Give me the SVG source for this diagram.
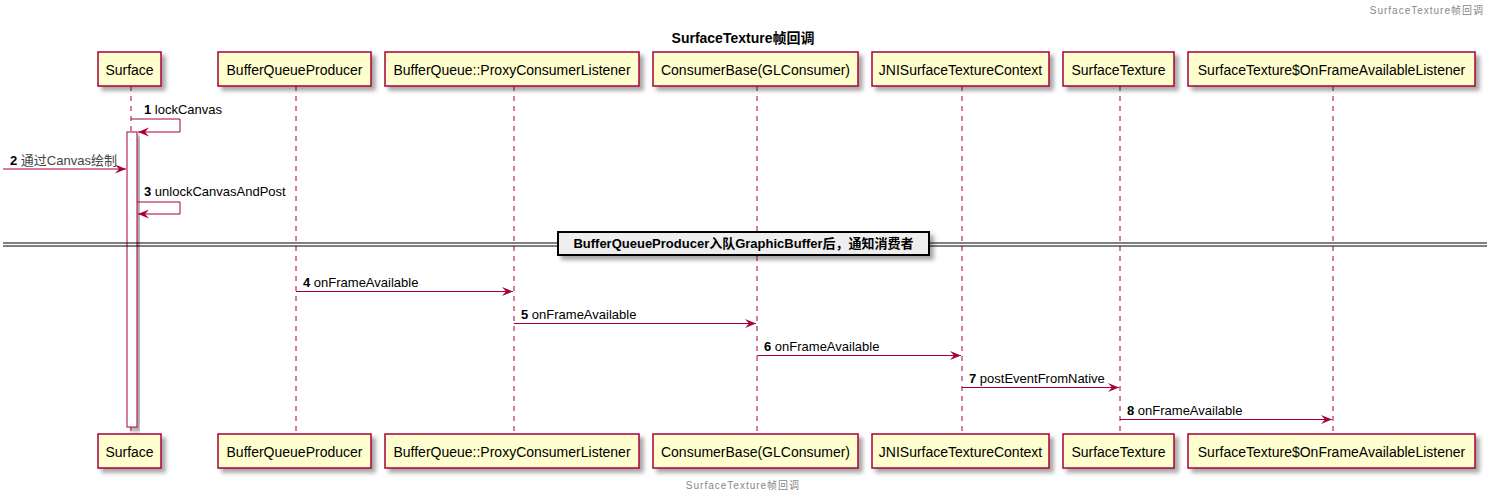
<svg xmlns="http://www.w3.org/2000/svg" width="1495" height="501" viewBox="0 0 1495 501">
<defs>
<filter id="sh" x="-20%" y="-20%" width="150%" height="170%">
<feGaussianBlur in="SourceAlpha" stdDeviation="2"/>
<feOffset dx="4" dy="4" result="b"/>
<feFlood flood-color="#000" flood-opacity="0.35"/>
<feComposite in2="b" operator="in"/>
<feMerge><feMergeNode/><feMergeNode in="SourceGraphic"/></feMerge>
</filter>
<marker id="ah" markerWidth="14" markerHeight="10" refX="11" refY="4.5" orient="auto" markerUnits="userSpaceOnUse">
<polygon points="0,0 11,4.5 0,9 4,4.5" fill="#A80036"/>
</marker>
</defs>
<style>
text{font-family:"Liberation Sans","Noto Sans CJK SC",sans-serif;}
.box{fill:#FEFECE;stroke:#A80036;stroke-width:1.5;filter:url(#sh);}
.bt{font-size:14px;text-anchor:middle;fill:#000;}
.life{stroke:#A80036;stroke-width:1;stroke-dasharray:5,5;fill:none;}
.msg{stroke:#A80036;stroke-width:1;fill:none;marker-end:url(#ah);}
.ml{font-size:13px;fill:#000;}
.num{font-weight:bold;}
.hf{font-size:10px;fill:#888;letter-spacing:1px;}
</style>
<rect width="1495" height="501" fill="#fff"/>
<text class="hf" x="1484" y="14" text-anchor="end">SurfaceTexture帧回调</text>
<text x="743" y="43" text-anchor="middle" font-size="14" font-weight="bold">SurfaceTexture帧回调</text>
<text class="hf" x="743" y="489" text-anchor="middle">SurfaceTexture帧回调</text>

<g id="lifelines">
<line class="life" x1="131" y1="86" x2="131" y2="434"/>
<line class="life" x1="296" y1="86" x2="296" y2="434"/>
<line class="life" x1="514" y1="86" x2="514" y2="434"/>
<line class="life" x1="757" y1="86" x2="757" y2="434"/>
<line class="life" x1="962" y1="86" x2="962" y2="434"/>
<line class="life" x1="1120" y1="86" x2="1120" y2="434"/>
<line class="life" x1="1333" y1="86" x2="1333" y2="434"/>
</g>

<g id="activation">
<rect x="127" y="132" width="10" height="295" fill="#fff" stroke="#A80036" stroke-width="1" filter="url(#sh)"/>
</g>

<g id="p-surface">
<rect class="box" x="98" y="52" width="63" height="34"/><text class="bt" x="129.5" y="75">Surface</text>
<rect class="box" x="98" y="434" width="63" height="34"/><text class="bt" x="129.5" y="457">Surface</text>
</g>
<g id="p-bqp">
<rect class="box" x="218" y="52" width="153" height="34"/><text class="bt" x="294.5" y="75">BufferQueueProducer</text>
<rect class="box" x="218" y="434" width="153" height="34"/><text class="bt" x="294.5" y="457">BufferQueueProducer</text>
</g>
<g id="p-proxy">
<rect class="box" x="385" y="52" width="254" height="34"/><text class="bt" x="512" y="75">BufferQueue::ProxyConsumerListener</text>
<rect class="box" x="385" y="434" width="254" height="34"/><text class="bt" x="512" y="457">BufferQueue::ProxyConsumerListener</text>
</g>
<g id="p-consumerbase">
<rect class="box" x="653" y="52" width="205" height="34"/><text class="bt" x="755.5" y="75">ConsumerBase(GLConsumer)</text>
<rect class="box" x="653" y="434" width="205" height="34"/><text class="bt" x="755.5" y="457">ConsumerBase(GLConsumer)</text>
</g>
<g id="p-jni">
<rect class="box" x="872" y="52" width="177" height="34"/><text class="bt" x="960.5" y="75">JNISurfaceTextureContext</text>
<rect class="box" x="872" y="434" width="177" height="34"/><text class="bt" x="960.5" y="457">JNISurfaceTextureContext</text>
</g>
<g id="p-st">
<rect class="box" x="1063" y="52" width="111" height="34"/><text class="bt" x="1118.5" y="75">SurfaceTexture</text>
<rect class="box" x="1063" y="434" width="111" height="34"/><text class="bt" x="1118.5" y="457">SurfaceTexture</text>
</g>
<g id="p-listener">
<rect class="box" x="1188" y="52" width="287" height="34"/><text class="bt" x="1331.5" y="75">SurfaceTexture$OnFrameAvailableListener</text>
<rect class="box" x="1188" y="434" width="287" height="34"/><text class="bt" x="1331.5" y="457">SurfaceTexture$OnFrameAvailableListener</text>
</g>

<g id="divider">
<line x1="3" y1="243" x2="1487" y2="243" stroke="#000" stroke-width="1"/>
<line x1="3" y1="246" x2="1487" y2="246" stroke="#000" stroke-width="1"/>
<rect x="558" y="232" width="371" height="23" fill="#EEEEEE" stroke="#000" stroke-width="2" filter="url(#sh)"/>
<text x="743.5" y="248" text-anchor="middle" font-size="13" font-weight="bold">BufferQueueProducer入队GraphicBuffer后，通知消费者</text>
</g>

<g id="connectors">
<path class="msg" d="M131,119 H180 V132 H138"/>
<text class="ml" x="144" y="114"><tspan class="num">1</tspan> lockCanvas</text>
<line class="msg" x1="3" y1="169" x2="126" y2="169"/>
<text class="ml" x="10" y="165"><tspan class="num">2</tspan> <tspan fill="#444">通过Canvas绘制</tspan></text>
<path class="msg" d="M137,202 H180 V214 H138"/>
<text class="ml" x="144" y="196"><tspan class="num">3</tspan> unlockCanvasAndPost</text>
<line class="msg" x1="296" y1="291.5" x2="513" y2="291.5"/>
<text class="ml" x="303" y="287"><tspan class="num">4</tspan> onFrameAvailable</text>
<line class="msg" x1="514" y1="323.5" x2="756" y2="323.5"/>
<text class="ml" x="521" y="319"><tspan class="num">5</tspan> onFrameAvailable</text>
<line class="msg" x1="757" y1="355.5" x2="961" y2="355.5"/>
<text class="ml" x="764" y="351"><tspan class="num">6</tspan> onFrameAvailable</text>
<line class="msg" x1="962" y1="387.5" x2="1119" y2="387.5"/>
<text class="ml" x="969" y="383"><tspan class="num">7</tspan> postEventFromNative</text>
<line class="msg" x1="1120" y1="419.5" x2="1332" y2="419.5"/>
<text class="ml" x="1127" y="415"><tspan class="num">8</tspan> onFrameAvailable</text>
</g>
</svg>
